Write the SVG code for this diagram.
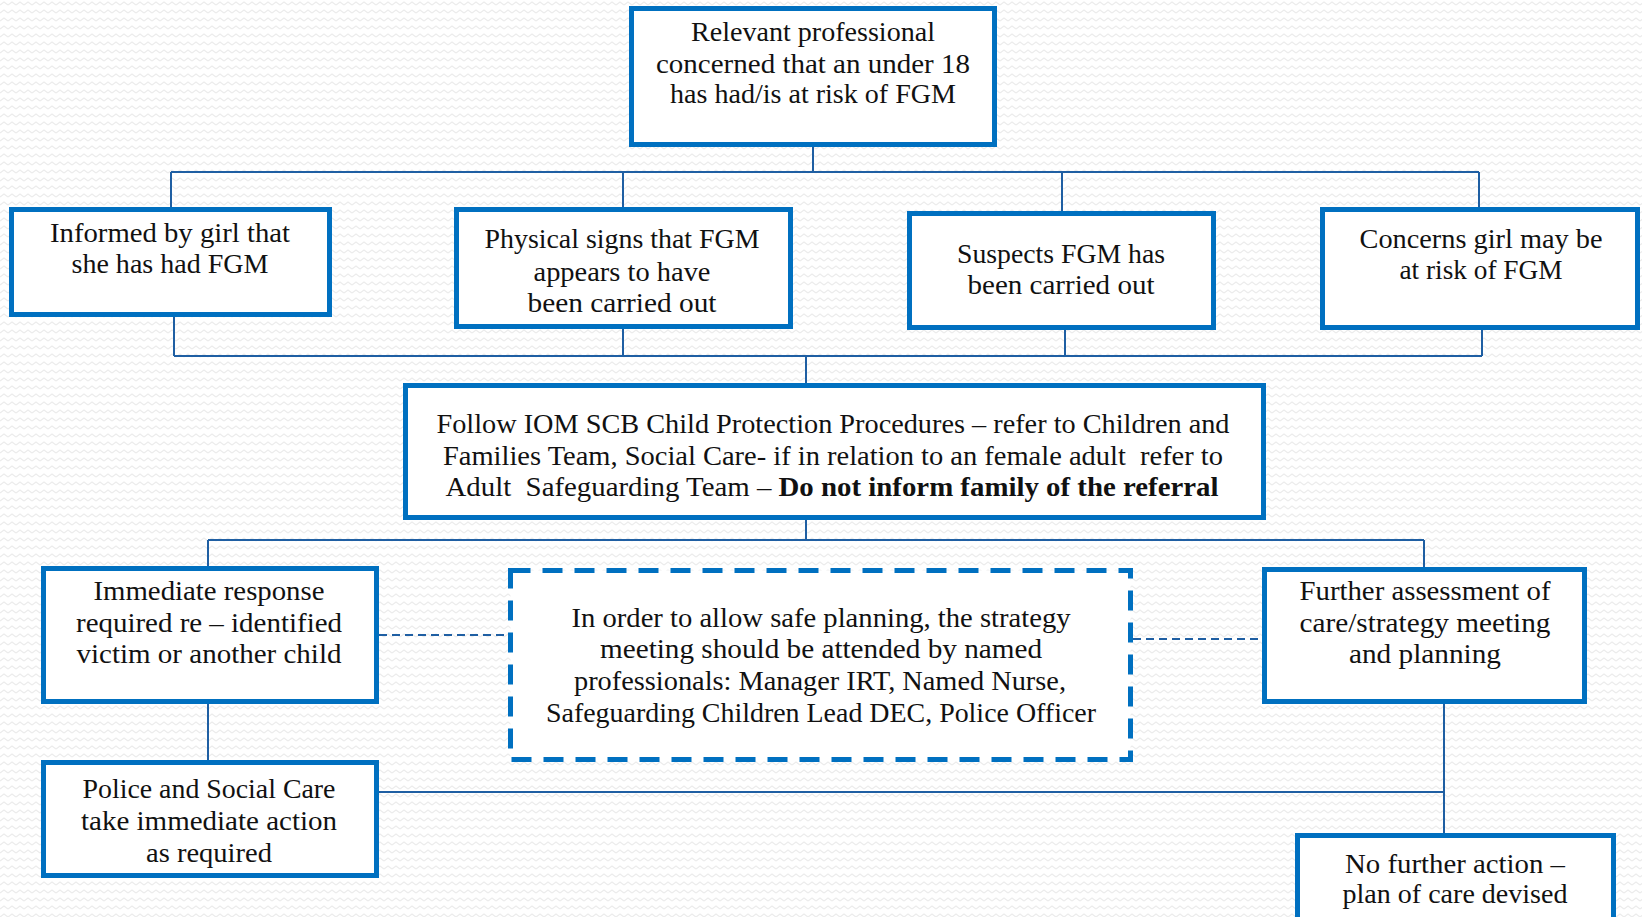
<svg xmlns="http://www.w3.org/2000/svg" width="1642" height="917" viewBox="0 0 1642 917">
<style>
.box{fill:#ffffff;stroke:#0070C0;stroke-width:5}
.dbox{fill:#ffffff;stroke:#0070C0;stroke-width:5;stroke-dasharray:20 12}
.ln{fill:none;stroke:#1F5FA3;stroke-width:2}
.dl{fill:none;stroke:#1F5FA3;stroke-width:2;stroke-dasharray:8 5}
text{font-family:"Liberation Serif","Times New Roman",serif;font-size:27px;fill:#111111;text-anchor:middle}
.b{font-weight:bold}
</style>
<defs>
<pattern id="bg" width="8" height="8" patternUnits="userSpaceOnUse">
<path d="M0 5 L4 2 L8 5" fill="none" stroke="#ececec" stroke-width="1.2"/>
</pattern>
</defs>
<rect width="1642" height="917" fill="#ffffff"/>
<rect width="1642" height="917" fill="url(#bg)"/>
<g id="connectors">
<path class="ln" d="M813 147 V172 M171 172 H1479 M171 172 V207 M623 172 V207 M1062 172 V211 M1479 172 V207"/>
<path class="ln" d="M174 317 V356 M623 329 V356 M1065 330 V356 M1482 330 V356 M174 356 H1482 M806 356 V383"/>
<path class="ln" d="M806 520 V540 M208 540 H1424 M208 540 V566 M1424 540 V567"/>
<path class="ln" d="M208 704 V760 M379 792 H1444 M1444 704 V833"/>
<path class="dl" d="M379 635 H508 M1133 639 H1262"/>
</g>
<g id="n-top">
<rect class="box" x="631.5" y="8.5" width="363" height="136"/>
<text x="813" y="41" textLength="244" lengthAdjust="spacingAndGlyphs">Relevant professional</text>
<text x="813" y="73" textLength="314" lengthAdjust="spacingAndGlyphs">concerned that an under 18</text>
<text x="813" y="103" textLength="286" lengthAdjust="spacingAndGlyphs">has had/is at risk of FGM</text>
</g>
<g id="n-informed">
<rect class="box" x="11.5" y="209.5" width="318" height="105"/>
<text x="170" y="242" textLength="240" lengthAdjust="spacingAndGlyphs">Informed by girl that</text>
<text x="170" y="273" textLength="197" lengthAdjust="spacingAndGlyphs">she has had FGM</text>
</g>
<g id="n-physical">
<rect class="box" x="456.5" y="209.5" width="334" height="117"/>
<text x="622" y="248" textLength="275" lengthAdjust="spacingAndGlyphs">Physical signs that FGM</text>
<text x="622" y="281" textLength="177" lengthAdjust="spacingAndGlyphs">appears to have</text>
<text x="622" y="312" textLength="189" lengthAdjust="spacingAndGlyphs">been carried out</text>
</g>
<g id="n-suspects">
<rect class="box" x="909.5" y="213.5" width="304" height="114"/>
<text x="1061" y="263" textLength="208" lengthAdjust="spacingAndGlyphs">Suspects FGM has</text>
<text x="1061" y="294" textLength="187" lengthAdjust="spacingAndGlyphs">been carried out</text>
</g>
<g id="n-concerns">
<rect class="box" x="1322.5" y="209.5" width="315" height="118"/>
<text x="1481" y="248" textLength="243" lengthAdjust="spacingAndGlyphs">Concerns girl may be</text>
<text x="1481" y="279" textLength="163" lengthAdjust="spacingAndGlyphs">at risk of FGM</text>
</g>
<g id="n-follow">
<rect class="box" x="405.5" y="385.5" width="858" height="132"/>
<text x="833" y="433" textLength="793" lengthAdjust="spacingAndGlyphs">Follow IOM SCB Child Protection Procedures – refer to Children and</text>
<text x="833" y="465" textLength="780" lengthAdjust="spacingAndGlyphs" xml:space="preserve">Families Team, Social Care- if in relation to an female adult  refer to</text>
<text x="832" y="496" textLength="773" lengthAdjust="spacingAndGlyphs" xml:space="preserve">Adult  Safeguarding Team – <tspan class="b">Do not inform family of the referral</tspan></text>
</g>
<g id="n-immediate">
<rect class="box" x="43.5" y="568.5" width="333" height="133"/>
<text x="209" y="600" textLength="231" lengthAdjust="spacingAndGlyphs">Immediate response</text>
<text x="209" y="632" textLength="266" lengthAdjust="spacingAndGlyphs">required re – identified</text>
<text x="209" y="663" textLength="265" lengthAdjust="spacingAndGlyphs">victim or another child</text>
</g>
<g id="n-strategy">
<rect class="dbox" x="510.5" y="570.5" width="620" height="189"/>
<text x="821" y="627" textLength="499" lengthAdjust="spacingAndGlyphs">In order to allow safe planning, the strategy</text>
<text x="821" y="658" textLength="442" lengthAdjust="spacingAndGlyphs">meeting should be attended by named</text>
<text x="820" y="690" textLength="492" lengthAdjust="spacingAndGlyphs">professionals: Manager IRT, Named Nurse,</text>
<text x="821" y="722" textLength="550" lengthAdjust="spacingAndGlyphs">Safeguarding Children Lead DEC, Police Officer</text>
</g>
<g id="n-further">
<rect class="box" x="1264.5" y="569.5" width="320" height="132"/>
<text x="1425" y="600" textLength="251" lengthAdjust="spacingAndGlyphs">Further assessment of</text>
<text x="1425" y="632" textLength="251" lengthAdjust="spacingAndGlyphs">care/strategy meeting</text>
<text x="1425" y="663" textLength="152" lengthAdjust="spacingAndGlyphs">and planning</text>
</g>
<g id="n-police">
<rect class="box" x="43.5" y="762.5" width="333" height="113"/>
<text x="209" y="798" textLength="253" lengthAdjust="spacingAndGlyphs">Police and Social Care</text>
<text x="209" y="830" textLength="256" lengthAdjust="spacingAndGlyphs">take immediate action</text>
<text x="209" y="862" textLength="126" lengthAdjust="spacingAndGlyphs">as required</text>
</g>
<g id="n-nfa">
<rect class="box" x="1297.5" y="835.5" width="316" height="100"/>
<text x="1455" y="873" textLength="220" lengthAdjust="spacingAndGlyphs">No further action –</text>
<text x="1455" y="903" textLength="225" lengthAdjust="spacingAndGlyphs">plan of care devised</text>
</g>
</svg>
